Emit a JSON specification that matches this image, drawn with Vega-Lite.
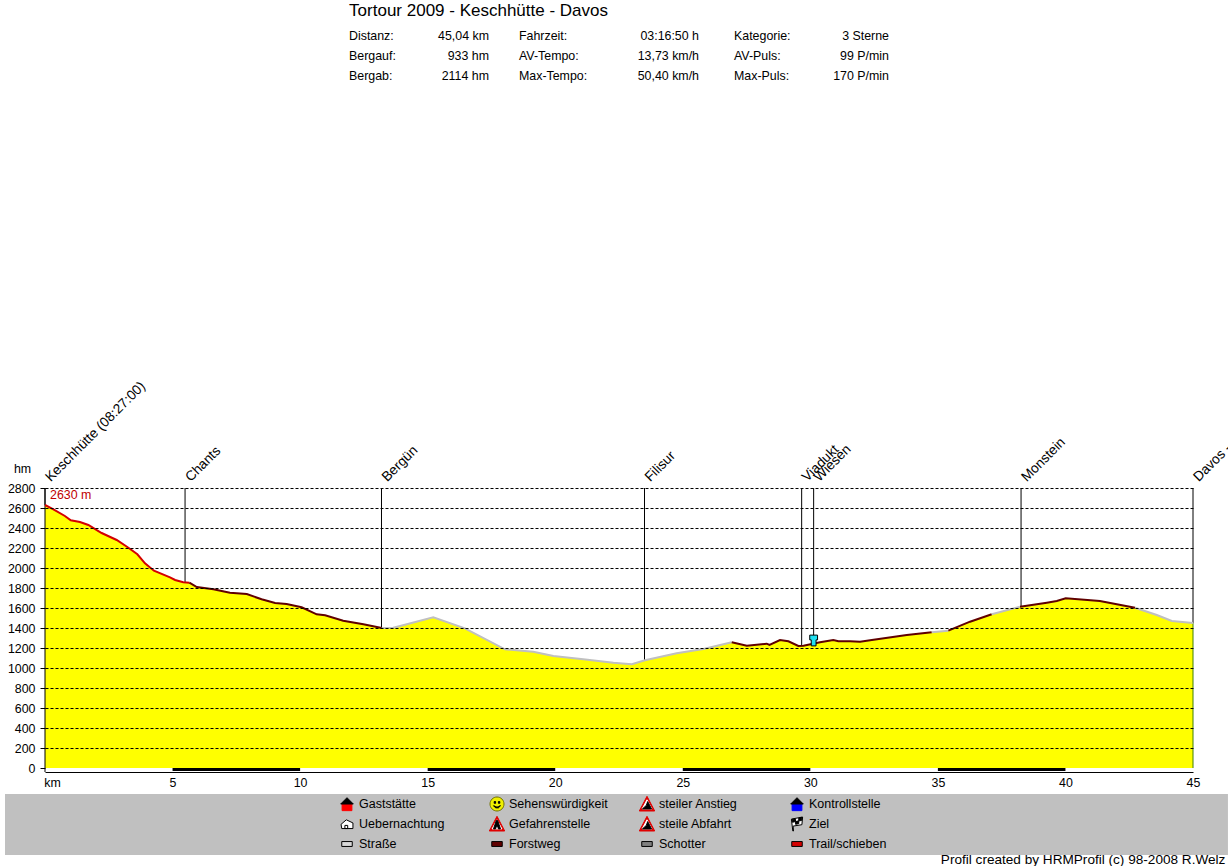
{"$schema":"https://vega.github.io/schema/vega-lite/v6.json","width":1148,"height":280,"autosize":"none","padding":{"left":45,"top":488,"right":35,"bottom":98},"background":"white","config":{"view":{"stroke":null},"font":"Liberation Sans","axis":{"labelFont":"Liberation Sans","titleFont":"Liberation Sans"}},
"datasets":{
"profile":[
{"km":0,"hm":2630,"seg":"a","surface":"Trail"},{"km":0.33,"hm":2587,"seg":"a","surface":"Trail"},{"km":0.78,"hm":2520,"seg":"a","surface":"Trail"},{"km":1.01,"hm":2477,"seg":"a","surface":"Trail"},{"km":1.37,"hm":2460,"seg":"a","surface":"Trail"},{"km":1.7,"hm":2430,"seg":"a","surface":"Trail"},{"km":2.22,"hm":2350,"seg":"a","surface":"Trail"},{"km":2.81,"hm":2280,"seg":"a","surface":"Trail"},{"km":3.27,"hm":2203,"seg":"a","surface":"Trail"},{"km":3.62,"hm":2137,"seg":"a","surface":"Trail"},{"km":3.92,"hm":2047,"seg":"a","surface":"Trail"},{"km":4.27,"hm":1973,"seg":"a","surface":"Trail"},{"km":4.9,"hm":1907,"seg":"a","surface":"Trail"},{"km":5.1,"hm":1880,"seg":"a","surface":"Trail"},{"km":5.42,"hm":1857,"seg":"a","surface":"Trail"},{"km":5.66,"hm":1853,"seg":"a","surface":"Trail"},
{"km":5.66,"hm":1853,"seg":"b","surface":"Forstweg"},{"km":5.95,"hm":1810,"seg":"b","surface":"Forstweg"},{"km":6.6,"hm":1787,"seg":"b","surface":"Forstweg"},{"km":7.25,"hm":1753,"seg":"b","surface":"Forstweg"},{"km":7.91,"hm":1740,"seg":"b","surface":"Forstweg"},{"km":8.49,"hm":1687,"seg":"b","surface":"Forstweg"},{"km":9.02,"hm":1650,"seg":"b","surface":"Forstweg"},{"km":9.47,"hm":1640,"seg":"b","surface":"Forstweg"},{"km":10.06,"hm":1607,"seg":"b","surface":"Forstweg"},{"km":10.65,"hm":1537,"seg":"b","surface":"Forstweg"},{"km":10.98,"hm":1527,"seg":"b","surface":"Forstweg"},{"km":11.69,"hm":1473,"seg":"b","surface":"Forstweg"},{"km":12.48,"hm":1437,"seg":"b","surface":"Forstweg"},{"km":13.2,"hm":1400,"seg":"b","surface":"Forstweg"},
{"km":13.2,"hm":1400,"seg":"c","surface":"Strasse"},{"km":13.65,"hm":1403,"seg":"c","surface":"Strasse"},{"km":13.92,"hm":1420,"seg":"c","surface":"Strasse"},{"km":15.22,"hm":1507,"seg":"c","surface":"Strasse"},{"km":16.46,"hm":1397,"seg":"c","surface":"Strasse"},{"km":18.03,"hm":1187,"seg":"c","surface":"Strasse"},{"km":19.14,"hm":1163,"seg":"c","surface":"Strasse"},{"km":19.93,"hm":1120,"seg":"c","surface":"Strasse"},{"km":21.1,"hm":1087,"seg":"c","surface":"Strasse"},{"km":22.28,"hm":1053,"seg":"c","surface":"Strasse"},{"km":23,"hm":1037,"seg":"c","surface":"Strasse"},{"km":23.52,"hm":1077,"seg":"c","surface":"Strasse"},{"km":24.76,"hm":1147,"seg":"c","surface":"Strasse"},{"km":25.81,"hm":1190,"seg":"c","surface":"Strasse"},{"km":26.92,"hm":1257,"seg":"c","surface":"Strasse"},
{"km":26.92,"hm":1257,"seg":"d","surface":"Forstweg"},{"km":27.51,"hm":1223,"seg":"d","surface":"Forstweg"},{"km":28.29,"hm":1243,"seg":"d","surface":"Forstweg"},{"km":28.4,"hm":1230,"seg":"d","surface":"Forstweg"},{"km":28.81,"hm":1280,"seg":"d","surface":"Forstweg"},{"km":29.14,"hm":1267,"seg":"d","surface":"Forstweg"},{"km":29.53,"hm":1220,"seg":"d","surface":"Forstweg"},{"km":29.73,"hm":1223,"seg":"d","surface":"Forstweg"},{"km":30.38,"hm":1257,"seg":"d","surface":"Forstweg"},{"km":30.9,"hm":1280,"seg":"d","surface":"Forstweg"},{"km":31.1,"hm":1267,"seg":"d","surface":"Forstweg"},{"km":31.56,"hm":1267,"seg":"d","surface":"Forstweg"},{"km":31.95,"hm":1263,"seg":"d","surface":"Forstweg"},{"km":32.41,"hm":1280,"seg":"d","surface":"Forstweg"},{"km":33.78,"hm":1330,"seg":"d","surface":"Forstweg"},{"km":34.76,"hm":1357,"seg":"d","surface":"Forstweg"},
{"km":34.76,"hm":1357,"seg":"e","surface":"Strasse"},{"km":35.41,"hm":1373,"seg":"e","surface":"Strasse"},
{"km":35.41,"hm":1373,"seg":"f","surface":"Forstweg"},{"km":36.26,"hm":1463,"seg":"f","surface":"Forstweg"},{"km":37.11,"hm":1537,"seg":"f","surface":"Forstweg"},
{"km":37.11,"hm":1537,"seg":"g","surface":"Strasse"},{"km":38.22,"hm":1613,"seg":"g","surface":"Strasse"},
{"km":38.22,"hm":1613,"seg":"h","surface":"Forstweg"},{"km":39.27,"hm":1653,"seg":"h","surface":"Forstweg"},{"km":39.66,"hm":1670,"seg":"h","surface":"Forstweg"},{"km":40.01,"hm":1697,"seg":"h","surface":"Forstweg"},{"km":41.35,"hm":1670,"seg":"h","surface":"Forstweg"},{"km":42.73,"hm":1603,"seg":"h","surface":"Forstweg"},
{"km":42.73,"hm":1603,"seg":"i","surface":"Strasse"},{"km":43.58,"hm":1530,"seg":"i","surface":"Strasse"},{"km":44.17,"hm":1470,"seg":"i","surface":"Strasse"},{"km":45,"hm":1450,"seg":"i","surface":"Strasse"}],
"waypoints":[{"km":0,"hm":2630,"top":2800,"name":"Keschhütte (08:27:00)"},{"km":5.49,"hm":1855,"top":2800,"name":"Chants"},{"km":13.19,"hm":1400,"top":2800,"name":"Bergün"},{"km":23.5,"hm":1075,"top":2800,"name":"Filisur"},{"km":29.66,"hm":1222,"top":2800,"name":"Viadukt"},{"km":30.13,"hm":1310,"top":2800,"name":"Wiesen"},{"km":38.26,"hm":1615,"top":2800,"name":"Monstein"},{"km":45,"hm":1450,"top":2800,"name":"Davos -"}],
"bands":[{"start":5,"end":10,"zero":0,"low":-30},{"start":15,"end":20,"zero":0,"low":-30},{"start":25,"end":30,"zero":0,"low":-30},{"start":35,"end":40,"zero":0,"low":-30}],
"stats":[{"col":0,"row":0,"label":"Distanz:","value":"45,04 km"},{"col":0,"row":1,"label":"Bergauf:","value":"933 hm"},{"col":0,"row":2,"label":"Bergab:","value":"2114 hm"},{"col":1,"row":0,"label":"Fahrzeit:","value":"03:16:50 h"},{"col":1,"row":1,"label":"AV-Tempo:","value":"13,73 km/h"},{"col":1,"row":2,"label":"Max-Tempo:","value":"50,40 km/h"},{"col":2,"row":0,"label":"Kategorie:","value":"3 Sterne"},{"col":2,"row":1,"label":"AV-Puls:","value":"99 P/min"},{"col":2,"row":2,"label":"Max-Puls:","value":"170 P/min"}],
"legend":[{"col":0,"row":0,"label":"Gaststätte"},{"col":0,"row":1,"label":"Uebernachtung"},{"col":0,"row":2,"label":"Straße"},{"col":1,"row":0,"label":"Sehenswürdigkeit"},{"col":1,"row":1,"label":"Gefahrenstelle"},{"col":1,"row":2,"label":"Forstweg"},{"col":2,"row":0,"label":"steiler Anstieg"},{"col":2,"row":1,"label":"steile Abfahrt"},{"col":2,"row":2,"label":"Schotter"},{"col":3,"row":0,"label":"Kontrollstelle"},{"col":3,"row":1,"label":"Ziel"},{"col":3,"row":2,"label":"Trail/schieben"}],
"icons":[{"col":0,"row":0,"part":"bodyRed"},{"col":0,"row":0,"part":"roof"},{"col":3,"row":0,"part":"bodyBlue"},{"col":3,"row":0,"part":"roof"},{"col":0,"row":1,"part":"hut"},{"col":1,"row":0,"part":"smiley"},{"col":1,"row":0,"part":"face"},{"col":1,"row":1,"part":"triRed"},{"col":1,"row":1,"part":"triWhite"},{"col":1,"row":1,"part":"letterA"},{"col":2,"row":0,"part":"triRed"},{"col":2,"row":0,"part":"triWhite"},{"col":2,"row":0,"part":"hill"},{"col":2,"row":1,"part":"triRed"},{"col":2,"row":1,"part":"triWhite"},{"col":2,"row":1,"part":"hill"},{"col":3,"row":1,"part":"flag"},{"col":3,"row":1,"part":"flagBlack"},{"col":0,"row":2,"part":"swatchWhite"},{"col":1,"row":2,"part":"swatchForst"},{"col":2,"row":2,"part":"swatchGrey"},{"col":3,"row":2,"part":"swatchRed"}]
},
"layer":[
{"layer":[
{"data":{"values":[{"km0":-1.568,"km1":46.37,"hm0":-260,"hm1":-870}]},"mark":{"type":"rect","color":"#c0c0c0","clip":false},"encoding":{"x":{"field":"km0","type":"quantitative","scale":{"domain":[0,45],"nice":false,"zero":false},"axis":{"values":[5,10,15,20,25,30,35,40,45],"tickCount":9,"title":"km","titleX":7,"titleY":10,"titleAlign":"center","titleBaseline":"middle","titleFontWeight":"normal","titleFontSize":12.4,"titleColor":"black","offset":4,"ticks":false,"grid":false,"domainColor":"black","labelColor":"black","labelFontSize":12.4,"labelPadding":4,"labelFlush":false,"labelOverlap":false,"zindex":1}},"x2":{"field":"km1"},"y":{"field":"hm0","type":"quantitative","scale":{"domain":[0,2800],"nice":false},"axis":{"values":[0,200,400,600,800,1000,1200,1400,1600,1800,2000,2200,2400,2600,2800],"tickCount":15,"format":"d","title":"hm","titleAngle":0,"titleX":-23,"titleY":-20,"titleAlign":"center","titleBaseline":"middle","titleFontWeight":"normal","titleFontSize":12.4,"titleColor":"black","grid":true,"gridColor":"black","gridDash":[3,2],"gridOpacity":{"condition":{"test":"datum.value===0","value":0},"value":1},"domain":false,"tickColor":"black","tickSize":5,"labelColor":"black","labelFontSize":12.4,"labelPadding":5,"labelFlush":false,"labelOverlap":false,"zindex":1}},"y2":{"field":"hm1"}}},
{"data":{"name":"profile"},"mark":{"type":"area","color":"#ffff00","orient":"vertical"},"encoding":{"x":{"field":"km","type":"quantitative"},"y":{"field":"hm","type":"quantitative","stack":null}}},
{"data":{"name":"bands"},"mark":{"type":"rect","color":"black","clip":false},"encoding":{"x":{"field":"start","type":"quantitative"},"x2":{"field":"end"},"y":{"field":"zero","type":"quantitative"},"y2":{"field":"low"}}},
{"data":{"name":"waypoints"},"mark":{"type":"rule","color":"black","strokeWidth":1},"encoding":{"x":{"field":"km","type":"quantitative"},"y":{"field":"top","type":"quantitative"},"y2":{"field":"hm"}}},
{"data":{"values":[{"km":0,"top":2800,"low":-40}]},"mark":{"type":"rule","color":"black","strokeWidth":1,"clip":false},"encoding":{"x":{"field":"km","type":"quantitative"},"y":{"field":"top","type":"quantitative"},"y2":{"field":"low"}}},
{"data":{"values":[{"km":45,"top":1450,"low":0}]},"mark":{"type":"rule","color":"#408000","strokeWidth":1},"encoding":{"x":{"field":"km","type":"quantitative"},"y":{"field":"top","type":"quantitative"},"y2":{"field":"low"}}},
{"data":{"name":"profile"},"mark":{"type":"line","strokeWidth":2,"interpolate":"linear"},"encoding":{"x":{"field":"km","type":"quantitative"},"y":{"field":"hm","type":"quantitative"},"detail":{"field":"seg","type":"nominal"},"color":{"field":"surface","type":"nominal","legend":null,"scale":{"domain":["Trail","Forstweg","Strasse"],"range":["#d40000","#600000","#c0c0c0"]}}}},
{"data":{"values":[{"km":30.13,"hm":1275,"name":"Wiesen"}]},"mark":{"type":"point","filled":true,"fill":"#20e0f0","stroke":"black","strokeWidth":1,"opacity":1,"size":144,"shape":"M-0.65,-0.9 L0.65,-0.9 L0.65,-0.1 L0.4,-0.1 L0.4,0.9 L-0.4,0.9 L-0.4,-0.1 L-0.65,-0.1 Z"},"encoding":{"x":{"field":"km","type":"quantitative"},"y":{"field":"hm","type":"quantitative"}}},
{"data":{"name":"waypoints"},"mark":{"type":"text","angle":315,"align":"left","baseline":"alphabetic","dx":8,"dy":0,"fontSize":13.7,"color":"black"},"encoding":{"x":{"field":"km","type":"quantitative"},"y":{"field":"top","type":"quantitative"},"text":{"field":"name","type":"nominal"}}},
{"data":{"values":[{"km":0,"hm":2630,"label":"2630 m"}]},"mark":{"type":"text","align":"left","baseline":"middle","dx":5,"dy":-10,"fontSize":12.4,"color":"#c00000"},"encoding":{"x":{"field":"km","type":"quantitative"},"y":{"field":"hm","type":"quantitative"},"text":{"field":"label","type":"nominal"}}},
{"data":{"values":[{"km":11.92,"hm":7570,"label":"Tortour 2009 - Keschhütte - Davos"}]},"mark":{"type":"text","align":"left","baseline":"middle","fontSize":17,"color":"black"},"encoding":{"x":{"field":"km","type":"quantitative"},"y":{"field":"hm","type":"quantitative"},"text":{"field":"label","type":"nominal"}}},
{"data":{"values":[{"km":46.27,"hm":-920,"label":"Profil created by HRMProfil (c) 98-2008 R.Welz"}]},"mark":{"type":"text","align":"right","baseline":"middle","fontSize":13.6,"color":"black"},"encoding":{"x":{"field":"km","type":"quantitative"},"y":{"field":"hm","type":"quantitative"},"text":{"field":"label","type":"nominal"}}}
]},
{"data":{"name":"stats"},"mark":{"type":"text","align":"left","baseline":"middle","fontSize":12.4,"color":"black"},"encoding":{"x":{"field":"col","type":"quantitative","axis":null,"scale":{"domain":[0,1,2],"range":[304,474,689]}},"y":{"field":"row","type":"quantitative","axis":null,"scale":{"domain":[0,2],"range":[-452,-412],"zero":false,"nice":false}},"text":{"field":"label","type":"nominal"}}},
{"data":{"name":"stats"},"mark":{"type":"text","align":"right","baseline":"middle","fontSize":12.4,"color":"black"},"encoding":{"x":{"field":"col","type":"quantitative","axis":null,"scale":{"domain":[0,1,2],"range":[444,654,844]}},"y":{"field":"row","type":"quantitative","axis":null,"scale":{"domain":[0,2],"range":[-452,-412],"zero":false,"nice":false}},"text":{"field":"value","type":"nominal"}}},
{"data":{"name":"legend"},"mark":{"type":"text","align":"left","baseline":"middle","fontSize":12.5,"color":"black"},"encoding":{"x":{"field":"col","type":"quantitative","axis":null,"scale":{"domain":[0,3],"range":[314,764]}},"y":{"field":"row","type":"quantitative","axis":null,"scale":{"domain":[0,2],"range":[316,356],"zero":false,"nice":false}},"text":{"field":"label","type":"nominal"}}},
{"data":{"name":"icons"},"mark":{"type":"point","filled":true,"size":196,"opacity":1,"strokeWidth":1},"encoding":{"x":{"field":"col","type":"quantitative","axis":null,"scale":{"domain":[0,3],"range":[302,752]}},"y":{"field":"row","type":"quantitative","axis":null,"scale":{"domain":[0,2],"range":[316,356],"zero":false,"nice":false}},
"shape":{"field":"part","type":"nominal","legend":null,"scale":{"domain":["roof","bodyRed","bodyBlue","hut","smiley","face","triRed","triWhite","letterA","hill","flag","flagBlack","swatchWhite","swatchForst","swatchGrey","swatchRed"],"range":["M-0.9,0 L0,-0.9 L0.9,0 Z","M-0.7,0 H0.7 V0.95 H-0.7 Z","M-0.7,0 H0.7 V0.95 H-0.7 Z","M-0.85,0.05 L-0.1,-0.6 L0.85,-0.15 V0.65 H-0.75 Z M-0.3,0.65 V0.2 H0.1 V0.65 Z","M-1,0 A1,1 0 1,1 1,0 A1,1 0 1,1 -1,0 Z","M-0.4,-0.35 H-0.2 V-0.1 H-0.4 Z M0.2,-0.35 H0.4 V-0.1 H0.2 Z M-0.5,0.25 H-0.42 L-0.15,0.42 H0.15 L0.42,0.25 H0.5 L0.2,0.55 H-0.2 Z","M0,-1.1 L1.1,1 H-1.1 Z","M0,-0.6 L0.7,0.7 H-0.7 Z","M-0.1,-0.5 H0.1 L0.5,0.7 H0.2 L0.1,0.35 H-0.1 L-0.2,0.7 H-0.5 Z","M0.1,-0.35 L0.65,0.7 H-0.65 L-0.1,0.2 Z","M-0.6,1 L-0.8,-0.7 L0.8,-1 L0.7,0.1 L-0.55,0.3 L-0.5,1 Z","M-0.7,-0.65 L-0.25,-0.75 L-0.2,-0.35 L-0.65,-0.25 Z M0.25,-0.85 L0.7,-0.95 L0.65,-0.5 L0.25,-0.45 Z M-0.2,-0.35 L0.25,-0.45 L0.25,-0.05 L-0.2,0.05 Z","M-0.75,-0.35 H0.75 V0.35 H-0.75 Z","M-0.75,-0.35 H0.75 V0.35 H-0.75 Z","M-0.75,-0.35 H0.75 V0.35 H-0.75 Z","M-0.75,-0.35 H0.75 V0.35 H-0.75 Z"]}},
"fill":{"field":"part","type":"nominal","legend":null,"scale":{"domain":["roof","bodyRed","bodyBlue","hut","smiley","face","triRed","triWhite","letterA","hill","flag","flagBlack","swatchWhite","swatchForst","swatchGrey","swatchRed"],"range":["#000000","#ff0000","#0000ff","#ffffff","#f0f000","#000000","#e00000","#ffffff","#000000","#000000","#ffffff","#000000","#d8d8d8","#600000","#808080","#d40000"]}},
"stroke":{"field":"part","type":"nominal","legend":null,"scale":{"domain":["roof","bodyRed","bodyBlue","hut","smiley","face","triRed","triWhite","letterA","hill","flag","flagBlack","swatchWhite","swatchForst","swatchGrey","swatchRed"],"range":["#000000","#ff0000","#0000ff","#000000","#707000","#000000","#e00000","#ffffff","#000000","#000000","#000000","#000000","#000000","#000000","#000000","#000000"]}}}}
],
"resolve":{"scale":{"x":"independent","y":"independent"}}
}
